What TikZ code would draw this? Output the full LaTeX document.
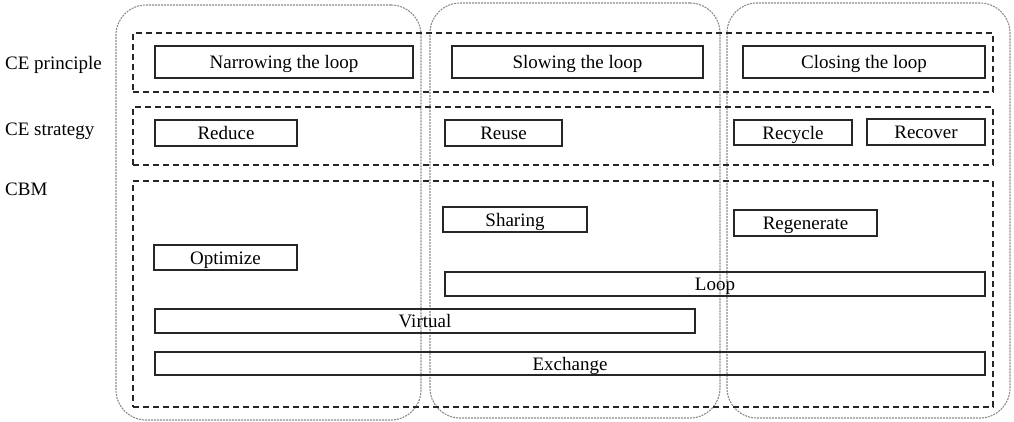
\documentclass[tikz,border=0pt]{standalone}
\usepackage{fontspec}
\setmainfont{Liberation Serif}
\begin{document}
\begin{tikzpicture}[x=1pt,y=-1pt,
  box/.style={draw=black!85, line width=1.1pt, inner sep=0pt, text height=15pt, text depth=2pt, font=\fontsize{19}{21}\selectfont},
  frame/.style={draw=black!85, line width=1.1pt, dash pattern=on 6pt off 4pt, inner sep=0pt},
  column/.style={draw=black!45, line width=1.1pt, dash pattern=on 2pt off 1pt, rounded corners=30pt, inner sep=0pt},
  lbl/.style={anchor=west, inner sep=0pt, text height=15pt, text depth=2pt, font=\fontsize{19}{21}\selectfont}]
\useasboundingbox (0,0) rectangle (1014,421);
% columns
\node[column, minimum width=305pt, minimum height=415pt] (c1) at (268.5,212.5) {};
\node[column, minimum width=290pt, minimum height=415pt] (c2) at (575,210.5) {};
\node[column, minimum width=283pt, minimum height=415pt] (c3) at (868.5,210.5) {};
% rows
\node[frame, minimum width=860pt, minimum height=59pt] (r1) at (563,62.5) {};
\node[frame, minimum width=860pt, minimum height=58pt] (r2) at (563,136) {};
\node[frame, minimum width=860pt, minimum height=226pt] (r3) at (563,294) {};
% labels
\node[lbl] (l1) at (5,63) {CE principle};
\node[lbl] (l2) at (5,129) {CE strategy};
\node[lbl] (l3) at (5,189) {CBM};
% principles
\node[box, minimum width=258pt, minimum height=32pt] (narrow) at (284,62) {Narrowing the loop};
\node[box, minimum width=251pt, minimum height=32pt] (slow) at (577.5,62) {Slowing the loop};
\node[box, minimum width=242pt, minimum height=32pt] (close) at (864,62) {Closing the loop};
% strategies
\node[box, minimum width=142pt, minimum height=26pt] (reduce) at (226,133) {Reduce};
\node[box, minimum width=117pt, minimum height=26pt] (reuse) at (503.5,133) {Reuse};
\node[box, minimum width=118pt, minimum height=25pt] (recycle) at (793,132.5) {Recycle};
\node[box, minimum width=118pt, minimum height=26pt] (recover) at (926,132) {Recover};
% CBM
\node[box, minimum width=144pt, minimum height=25pt] (sharing) at (515,219.5) {Sharing};
\node[box, minimum width=143pt, minimum height=26pt] (regen) at (805.5,223) {Regenerate};
\node[box, minimum width=143pt, minimum height=25pt] (optim) at (225.5,257.5) {Optimize};
\node[box, minimum width=540pt, minimum height=24pt] (loop) at (715,284) {Loop};
\node[box, minimum width=540pt, minimum height=24pt] (virtual) at (425,321) {Virtual};
\node[box, minimum width=830pt, minimum height=23pt] (exchange) at (570,363.5) {Exchange};
\end{tikzpicture}
\end{document}
